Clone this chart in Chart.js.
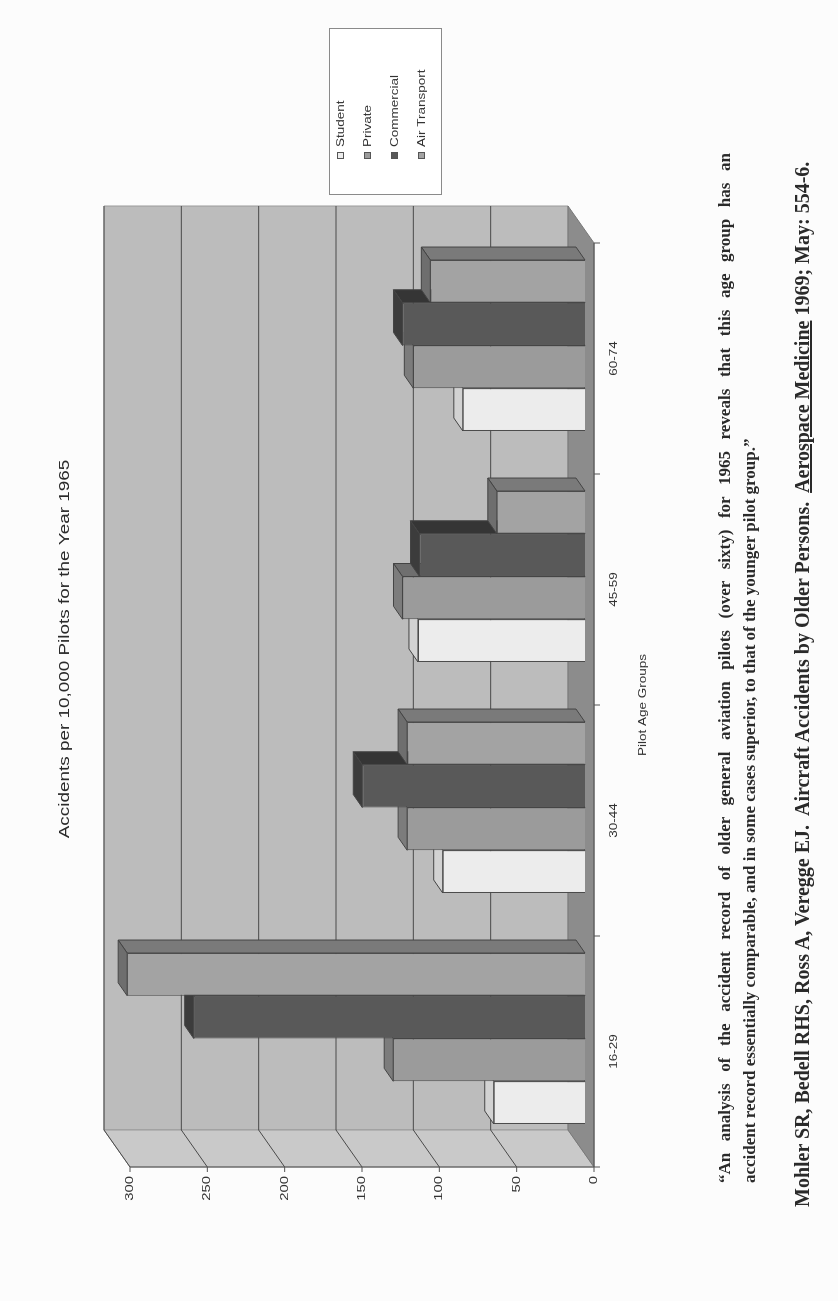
<!DOCTYPE html>
<html>
<head>
<meta charset="utf-8">
<script src="https://cdn.jsdelivr.net/npm/chart.js@4.4.1/dist/chart.umd.min.js"></script>
<style>
  html, body { margin: 0; padding: 0; background: #fcfcfc; }
  body { width: 838px; height: 1301px; overflow: hidden; position: relative; }
  #page {
    position: absolute; left: 0; top: 0;
    width: 1301px; height: 838px;
    transform-origin: 0 0;
    transform: translateY(1301px) rotate(-90deg);
  }
  #chart { position: absolute; left: 0; top: 0; }
  .note {
    position: absolute; left: 118px;
    font-family: "Liberation Serif", "Times New Roman", serif;
    font-weight: bold; font-size: 17px; line-height: 25px; color: #2a2a2a;
    white-space: nowrap;
  }
  .l1 { top: 712px; width: 1030px; text-align: justify; text-align-last: justify; }
  .l2 { top: 737px; }
  .ref { top: 790px; left: 94px; font-size: 20px; }
  .ref u { text-decoration: underline; }
</style>
</head>
<body>
<div id="page">
  <canvas id="chart" width="1301" height="838"></canvas>
  <div class="note l1">“An analysis of the accident record of older general aviation pilots (over sixty) for 1965 reveals that this age group has an</div>
  <div class="note l2">accident record essentially comparable, and in some cases superior, to that of the younger pilot group.”</div>
  <div class="note ref">Mohler SR, Bedell RHS, Ross A, Veregge EJ.&nbsp; Aircraft Accidents by Older Persons.&nbsp; <u>Aerospace Medicine</u> 1969; May: 554-6.</div>
</div>
<script>
const ageGroups = ["16-29", "30-44", "45-59", "60-74"];
const student = [59, 92, 108, 79];
const privatePilots = [124, 115, 118, 111];
const commercial = [253, 144, 107, 118];
const airTransport = [296, 115, 57, 100];
const yTicks = [0, 50, 100, 150, 200, 250, 300];

const seriesNames = ["Student", "Private", "Commercial", "Air Transport"];
const front = ["#ececec", "#9b9b9b", "#595959", "#a3a3a3"];
const topFace = ["#d2d2d2", "#7c7c7c", "#3c3c3c", "#6e6e6e"];
const sideFace = ["#bdbdbd", "#6f6f6f", "#353535", "#7a7a7a"];

// depth offsets (bar plane -> front edge / back wall / bar back)
const FRONT = [-13, 9], BACK = [24, -17], BAR = [13, -9];
const font = '"Liberation Sans", Arial, sans-serif';
const STRETCH = 1.35; // scanned page is wider than tall

function poly(ctx, pts, fill, stroke) {
  ctx.beginPath();
  ctx.moveTo(pts[0][0], pts[0][1]);
  for (let i = 1; i < pts.length; i++) ctx.lineTo(pts[i][0], pts[i][1]);
  ctx.closePath();
  if (fill) { ctx.fillStyle = fill; ctx.fill(); }
  if (stroke) { ctx.strokeStyle = stroke; ctx.lineWidth = 1; ctx.stroke(); }
}

function text(ctx, str, x, y, size, align, color) {
  ctx.save();
  ctx.translate(x, y);
  ctx.scale(STRETCH, 1);
  ctx.font = size + "px " + font;
  ctx.textAlign = align;
  ctx.textBaseline = "middle";
  ctx.fillStyle = color || "#333";
  ctx.fillText(str, 0, 0);
  ctx.restore();
}

const box3d = {
  id: "box3d",
  beforeDatasetsDraw(chart) {
    const ctx = chart.ctx, xs = chart.scales.x, ys = chart.scales.y;
    const L = xs.left, R = xs.right, y0 = ys.getPixelForValue(0), yt = ys.getPixelForValue(300);
    ctx.save();
    // back wall
    poly(ctx, [[L + BACK[0], yt + BACK[1]], [R + BACK[0], yt + BACK[1]], [R + BACK[0], y0 + BACK[1]], [L + BACK[0], y0 + BACK[1]]], "#bcbcbc", "#9a9a9a");
    // left wall
    poly(ctx, [[L + FRONT[0], yt + FRONT[1]], [L + BACK[0], yt + BACK[1]], [L + BACK[0], y0 + BACK[1]], [L + FRONT[0], y0 + FRONT[1]]], "#c9c9c9", "#9a9a9a");
    // floor
    poly(ctx, [[L + FRONT[0], y0 + FRONT[1]], [R + FRONT[0], y0 + FRONT[1]], [R + BACK[0], y0 + BACK[1]], [L + BACK[0], y0 + BACK[1]]], "#8c8c8c", "#777");
    // grid lines
    ctx.strokeStyle = "#4a4a4a"; ctx.lineWidth = 1;
    yTicks.slice(1).forEach(v => {
      const y = ys.getPixelForValue(v);
      ctx.beginPath();
      ctx.moveTo(L + FRONT[0], y + FRONT[1]);
      ctx.lineTo(L + BACK[0], y + BACK[1]);
      ctx.lineTo(R + BACK[0], y + BACK[1]);
      ctx.stroke();
    });
    // bar top and side faces
    chart.data.datasets.forEach((ds, i) => {
      chart.getDatasetMeta(i).data.forEach(bar => {
        const l = bar.x - bar.width / 2, r = bar.x + bar.width / 2;
        poly(ctx, [[r, bar.y], [r + BAR[0], bar.y + BAR[1]], [r + BAR[0], bar.base + BAR[1]], [r, bar.base]], sideFace[i], "#444");
        poly(ctx, [[l, bar.y], [l + BAR[0], bar.y + BAR[1]], [r + BAR[0], bar.y + BAR[1]], [r, bar.y]], topFace[i], "#444");
      });
    });
    ctx.restore();
  },
  afterDraw(chart) {
    const ctx = chart.ctx, xs = chart.scales.x, ys = chart.scales.y;
    const L = xs.left, R = xs.right, y0 = ys.getPixelForValue(0), yt = ys.getPixelForValue(300);
    const fx = L + FRONT[0], fy = y0 + FRONT[1];
    ctx.save();
    ctx.strokeStyle = "#555"; ctx.lineWidth = 1;
    // value axis + ticks
    ctx.beginPath();
    ctx.moveTo(fx, yt + FRONT[1]); ctx.lineTo(fx, fy);
    ctx.lineTo(R + FRONT[0], fy);
    ctx.stroke();
    yTicks.forEach(v => {
      const y = ys.getPixelForValue(v) + FRONT[1];
      ctx.beginPath(); ctx.moveTo(fx - 5, y); ctx.lineTo(fx, y); ctx.stroke();
      text(ctx, String(v), fx - 9, y, 11, "right");
    });
    // category ticks + labels
    const band = (R - L) / ageGroups.length;
    for (let i = 0; i <= ageGroups.length; i++) {
      const x = L + i * band + FRONT[0];
      ctx.beginPath(); ctx.moveTo(x, fy); ctx.lineTo(x, fy + 6); ctx.stroke();
    }
    ageGroups.forEach((g, i) => {
      text(ctx, g, xs.getPixelForValue(i) + FRONT[0], fy + 20, 10, "center");
    });
    text(ctx, "Pilot Age Groups", (L + R) / 2 + FRONT[0], fy + 49, 10, "center");
    // title
    text(ctx, "Accidents per 10,000 Pilots for the Year 1965", 652, 65, 14, "center", "#2a2a2a");
    // legend
    ctx.fillStyle = "#ffffff";
    ctx.fillRect(1106, 29, 0, 0);
    ctx.fillRect(1106, 329, 166, 112);
    ctx.strokeStyle = "#8a8a8a";
    ctx.strokeRect(1106.5, 329.5, 166, 112);
    seriesNames.forEach((name, i) => {
      const y = 341 + i * 27;
      ctx.fillStyle = front[i];
      ctx.fillRect(1142, y - 4, 7, 7);
      ctx.strokeStyle = "#555";
      ctx.strokeRect(1142.5, y - 3.5, 6, 6);
      text(ctx, name, 1154, y, 10, "left");
    });
    ctx.restore();
  }
};

new Chart(document.getElementById("chart").getContext("2d"), {
  type: "bar",
  data: {
    labels: ageGroups,
    datasets: [student, privatePilots, commercial, airTransport].map((d, i) => ({
      label: seriesNames[i],
      data: d,
      backgroundColor: front[i],
      borderColor: "#4a4a4a",
      borderWidth: 1,
      barPercentage: 1.0,
      categoryPercentage: 0.74
    }))
  },
  options: {
    responsive: false,
    animation: false,
    layout: { padding: { left: 147, right: 230, top: 121, bottom: 253 } },
    scales: {
      x: { display: false },
      y: { display: false, min: 0, max: 300 }
    },
    plugins: { legend: { display: false }, title: { display: false }, tooltip: { enabled: false } }
  },
  plugins: [box3d]
});
</script>
</body>
</html>
